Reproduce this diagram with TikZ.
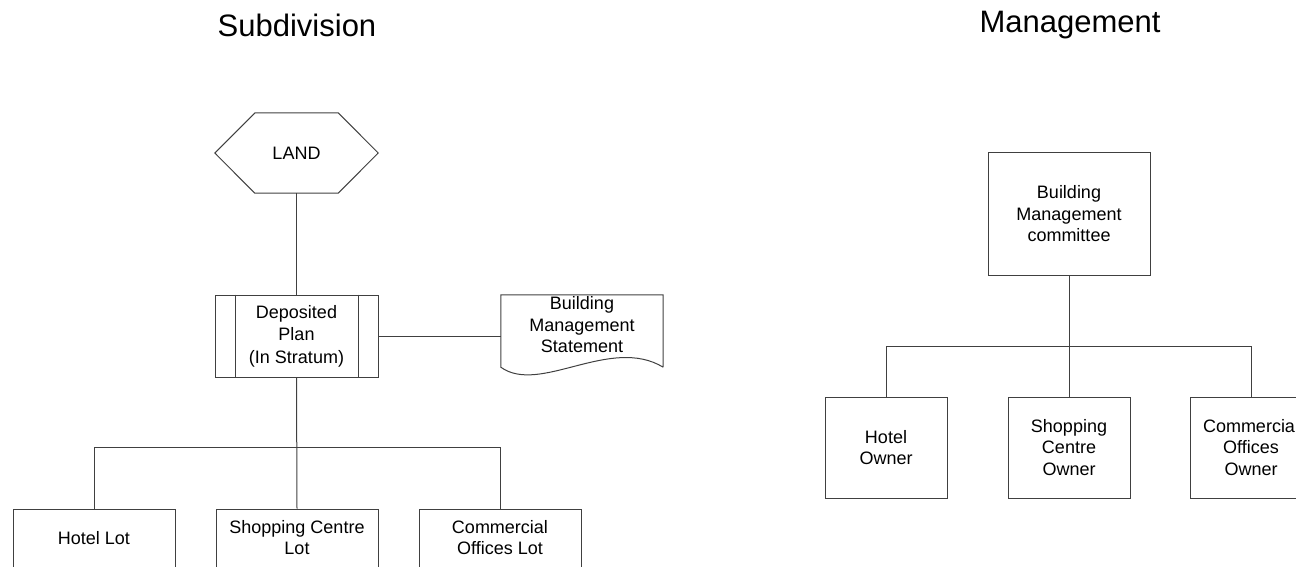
\documentclass[tikz,border=0pt]{standalone}
\usepackage{fontspec}
\setmainfont{Liberation Sans}
\usetikzlibrary{calc}
\begin{document}
\begin{tikzpicture}[x=1pt,y=-1pt,
  line/.style={draw=black!75, line width=1pt},
  txt/.style={inner sep=0pt, align=center, font=\fontsize{18}{21.5}\selectfont},
  box/.style={line, rectangle, inner sep=0pt, align=center, font=\fontsize{18}{21.5}\selectfont},
  ghost/.style={rectangle, inner sep=0pt},
  ttl/.style={inner sep=0pt, font=\fontsize{31}{36}\selectfont},
]
\useasboundingbox (0,0) rectangle (1296,567);
% titles
\node[ttl] (t1) at (297,25) {Subdivision};
\node[ttl] (t2) at (1070,25) {Management};
% LAND hexagon
\node[ghost, txt, minimum width=163, minimum height=80] (land) at (296.5,153) {LAND};
\draw[line] (land.west) -- ++(40,-40) coordinate (lt1) -- ($(land.north east)+(-40,0)$) -- (land.east)
  -- ($(land.south east)+(-40,0)$) -- ($(land.south west)+(40,0)$) -- cycle;
% Deposited plan (predefined process)
\node[box, minimum width=163, minimum height=82, font=\fontsize{18}{22.5}\selectfont] (dp) at (296.5,336) {Deposited\\Plan\\(In Stratum)};
\draw[line] ([xshift=21pt]dp.north west) -- ([xshift=21pt]dp.south west);
\draw[line] ([xshift=-20pt]dp.north east) -- ([xshift=-20pt]dp.south east);
% Building management statement (document)
\node[ghost, minimum width=162, minimum height=72] (bms) at (582,331) {};
\draw[line] (bms.south east) -- (bms.north east) -- (bms.north west) -- (bms.south west)
  .. controls +(39,28) and +(-53,-32) .. (bms.south east);
\node[txt] (bmst) at (582,325) {Building\\Management\\Statement};
% lots
\node[box, minimum width=162, minimum height=64] (lot1) at (94,541) {};
\node[box, minimum width=162, minimum height=64] (lot2) at (297,541) {};
\node[box, minimum width=162, minimum height=64] (lot3) at (500,541) {};
\node[txt] (lot1t) at (94,538) {Hotel Lot};
\node[txt] (lot2t) at (297,537.5) {Shopping Centre\\Lot};
\node[txt] (lot3t) at (500,537.5) {Commercial\\Offices Lot};
\coordinate (jn1) at (297,447);
% connectors left
\draw[line] (land.south) -- (dp.north);
\draw[line] (dp.east) -- (dp.east -| bms.west);
\draw[line] (dp.south) -- (lot2.north);
\draw[line] (lot1.north) -- (lot1.north |- jn1) -- (lot3.north |- jn1) -- (lot3.north);
% management side
\node[box, minimum width=162, minimum height=122] (bmc) at (1069,214) {Building\\Management\\committee};
\node[box, minimum width=122, minimum height=101] (own1) at (886,447.5) {Hotel\\Owner};
\node[box, minimum width=122, minimum height=101] (own2) at (1069,447.5) {Shopping\\Centre\\Owner};
\node[box, minimum width=122, minimum height=101] (own3) at (1251,447.5) {Commercial\\Offices\\Owner};
\coordinate (jn2) at (1069,346);
\draw[line] (bmc.south) -- (own2.north);
\draw[line] (own1.north) -- (own1.north |- jn2) -- (own3.north |- jn2) -- (own3.north);
\end{tikzpicture}
\end{document}
